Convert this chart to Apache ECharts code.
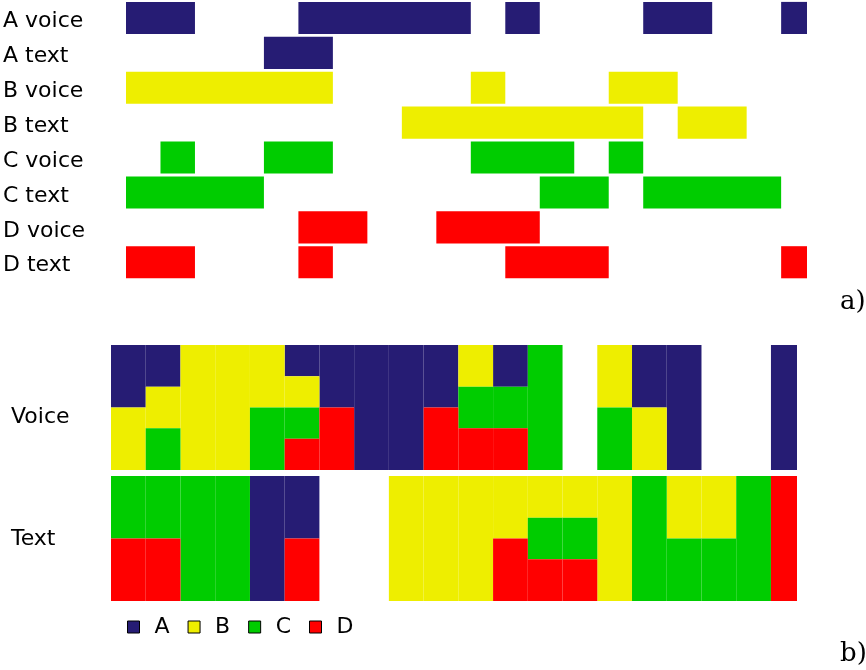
<!DOCTYPE html>
<html>
<head>
<meta charset="utf-8">
<script src="https://cdn.jsdelivr.net/npm/echarts@6/dist/echarts.min.js"></script>
<style>
  html, body { margin: 0; padding: 0; background: #fff; }
  #chart { width: 866px; height: 670px; }
</style>
</head>
<body>
<div id="chart"></div>
<script>
// time runs in slots, the last one is cut short
var T_END = 19.75
var SLOTS = 20

var rowLabels = ['A voice', 'A text', 'B voice', 'B text', 'C voice', 'C text', 'D voice', 'D text']
var bandLabels = ['Voice', 'Text']
var people = ['A', 'B', 'C', 'D']

// [start, end] of each activity
var aVoice = [[0, 2], [5, 10], [11, 12], [15, 17], [19, 19.75]]
var aText = [[4, 6]]
var bVoice = [[0, 6], [10, 11], [14, 16]]
var bText = [[8, 15], [16, 18]]
var cVoice = [[1, 2], [4, 6], [10, 13], [14, 15]]
var cText = [[0, 4], [12, 14], [15, 19]]
var dVoice = [[5, 7], [9, 12]]
var dText = [[0, 2], [5, 6], [11, 14], [19, 19.75]]

var colors = ['#261c74', '#eeee00', '#00cc00', '#ff0000']
var FONT = 'DejaVu Sans'

var voice = [aVoice, bVoice, cVoice, dVoice]
var text = [aText, bText, cText, dText]

function active(list, t) {
  return list.some(function (iv) { return t >= iv[0] && t < iv[1] })
}

// part b: in every slot the active people share the band equally, A on top
var shares = [[], [], [], []]
;[voice, text].forEach(function (lists, band) {
  for (var s = 0; s < SLOTS; s++) {
    var t = s + 0.5
    var on = []
    for (var p = 0; p < 4; p++) if (active(lists[p], t)) on.push(p)
    on.forEach(function (p, k) {
      shares[p].push([s, band, k / on.length, (k + 1) / on.length])
    })
  }
})

var chart = echarts.init(document.getElementById('chart'))

function renderA(params, api) {
  var row = api.value(0)
  var p0 = api.coord([api.value(1), row])
  var p1 = api.coord([api.value(2), row])
  var h = api.size([0, 1])[1] * 0.92
  return {
    type: 'rect',
    shape: { x: p0[0], y: p0[1] - h / 2, width: p1[0] - p0[0], height: h },
    style: api.style()
  }
}

var GAP = 3
function renderB(params, api) {
  var s = api.value(0)
  var band = api.value(1)
  var p0 = api.coord([s, band])
  var p1 = api.coord([Math.min(s + 1, T_END), band])
  var size = api.size([0, 1])[1]
  var inner = size - GAP
  var top = p0[1] - size / 2 + (band === 1 ? GAP : 0)
  var f0 = api.value(2), f1 = api.value(3)
  return {
    type: 'rect',
    shape: { x: p0[0], y: top + f0 * inner, width: p1[0] - p0[0], height: (f1 - f0) * inner },
    style: api.style()
  }
}

var series = []
people.forEach(function (name, p) {
  var data = []
  ;[voice[p], text[p]].forEach(function (list, k) {
    list.forEach(function (iv) { data.push([p * 2 + k, iv[0], iv[1]]) })
  })
  series.push({
    name: name,
    type: 'custom',
    xAxisIndex: 0,
    yAxisIndex: 0,
    renderItem: renderA,
    encode: { x: [1, 2], y: 0 },
    itemStyle: { color: colors[p] },
    data: data
  })
})
people.forEach(function (name, p) {
  series.push({
    name: name,
    type: 'custom',
    xAxisIndex: 1,
    yAxisIndex: 1,
    renderItem: renderB,
    encode: { x: 0, y: 1 },
    itemStyle: { color: colors[p] },
    data: shares[p]
  })
})

var hiddenX = {
  type: 'value', min: 0, max: T_END,
  axisLine: { show: false }, axisTick: { show: false },
  axisLabel: { show: false }, splitLine: { show: false }
}

var tagStyle = { fontFamily: 'DejaVu Serif', fontWeight: 'normal', fontSize: 26, color: '#000' }
var labelStyle = { fontSize: 22, color: '#000', fontFamily: FONT }

option = {
  animation: false,
  backgroundColor: '#fff',
  textStyle: { fontFamily: FONT },
  title: [
    { text: 'a)', left: 840, top: 289, textStyle: tagStyle, padding: 0 },
    { text: 'b)', left: 840, top: 641, textStyle: tagStyle, padding: 0 }
  ],
  legend: {
    data: people,
    left: 127,
    top: 616,
    padding: 0,
    icon: 'rect',
    itemWidth: 12,
    itemHeight: 12,
    itemGap: 18,
    itemStyle: { borderColor: '#000', borderWidth: 1 },
    textStyle: { fontFamily: FONT, fontSize: 22, color: '#000', padding: [0, 0, 0, 10] },
    selectedMode: false
  },
  grid: [
    { left: 124, right: 59, top: 0.5, height: 279.2 },
    { left: 111, right: 69, top: 345, height: 256 }
  ],
  xAxis: [
    Object.assign({ gridIndex: 0 }, hiddenX),
    Object.assign({ gridIndex: 1 }, hiddenX)
  ],
  yAxis: [
    {
      gridIndex: 0, type: 'category', data: rowLabels, inverse: true,
      axisLine: { show: false }, axisTick: { show: false },
      axisLabel: {
        align: 'left', margin: 123,
        formatter: function (v) { return '{l|' + v + '}' },
        rich: { l: Object.assign({ padding: [7, 0, 0, 0] }, labelStyle) }
      }
    },
    {
      gridIndex: 1, type: 'category', data: bandLabels, inverse: true,
      axisLine: { show: false }, axisTick: { show: false },
      axisLabel: {
        align: 'left', margin: 100,
        formatter: function (v) { return v === 'Voice' ? '{v|' + v + '}' : '{t|' + v + '}' },
        rich: {
          v: Object.assign({ padding: [16, 0, 0, 0] }, labelStyle),
          t: Object.assign({ padding: [5, 0, 0, 0] }, labelStyle)
        }
      }
    }
  ],
  series: series
}

chart.setOption(option)
</script>
</body>
</html>
